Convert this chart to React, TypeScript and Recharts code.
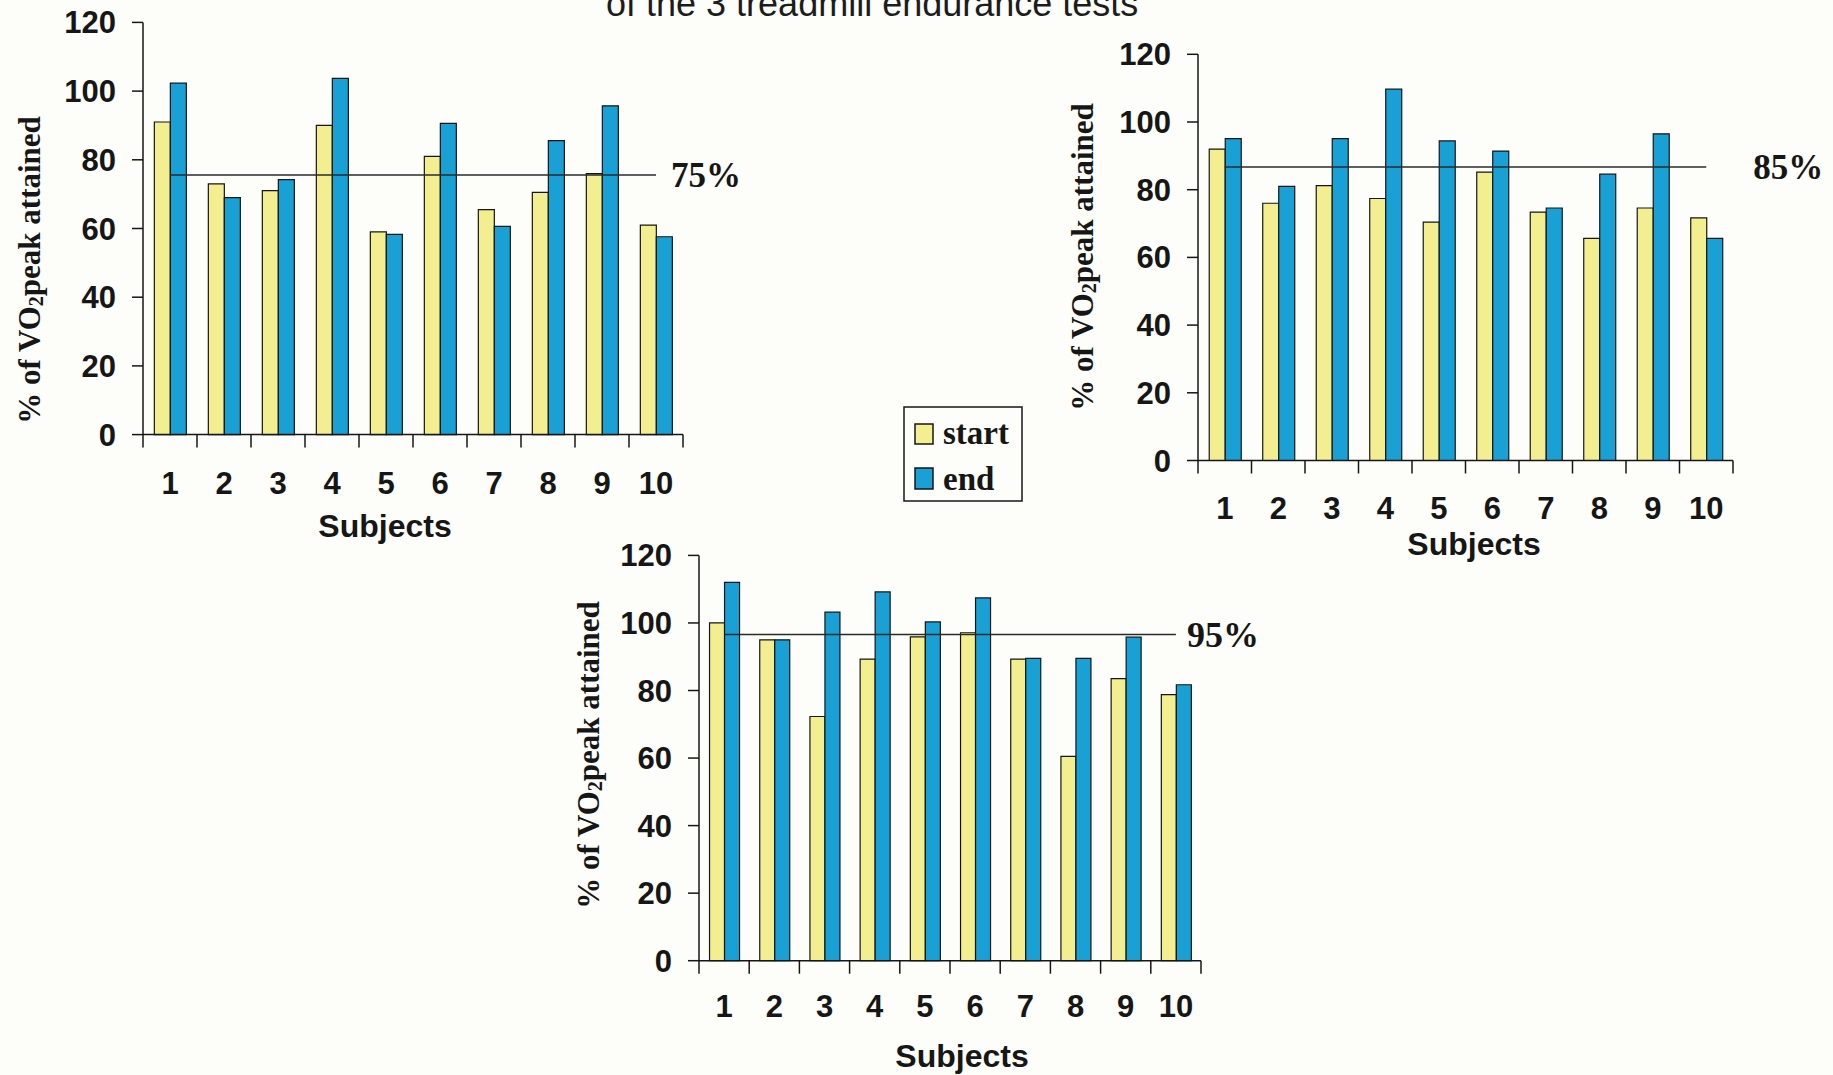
import React from 'react';
import { ComposedChart, Bar, XAxis, YAxis, ReferenceLine } from 'recharts';

// categories and values
const subjects = ['1', '2', '3', '4', '5', '6', '7', '8', '9', '10'];
const yTicks = [0, 20, 40, 60, 80, 100, 120];

const test1Start = [91, 73, 71, 90, 59, 81, 65.5, 70.5, 76, 61];
const test1End = [102.3, 69, 74.2, 103.7, 58.3, 90.6, 60.6, 85.6, 95.7, 57.6];

const test2Start = [92, 76, 81.2, 77.4, 70.4, 85.2, 73.4, 65.6, 74.6, 71.7];
const test2End = [95.1, 81, 95.1, 109.7, 94.4, 91.4, 74.6, 84.6, 96.5, 65.6];

const test3Start = [100, 95, 72.3, 89.3, 95.9, 97.1, 89.3, 60.5, 83.5, 78.8];
const test3End = [112, 95, 103.2, 109.2, 100.3, 107.4, 89.5, 89.5, 95.8, 81.7];

// threshold lines as drawn (slightly above the nominal value in the scan)
const thresholds = [75.6, 86.7, 96.6];
const thresholdLabels = ['75%', '85%', '95%'];

const SANS = "'Liberation Sans', Arial, sans-serif";
const SERIF = "'Liberation Serif', 'Times New Roman', serif";
const YELLOW = '#f3ee90';
const BLUE = '#19a1d5';
const INK = '#161616';
const BG = '#fdfdf9';

interface PanelProps {
  start: number[];
  end: number[];
  threshold: number;
  thresholdLabel: string;
  left: number;
  top: number;
  width: number;
  height: number;
  plot: { left: number; right: number; top: number; bottom: number };
  labelOffset: number;
  labelSize: number;
  tickDy: number;
}

const Panel: React.FC<PanelProps> = ({
  start, end, threshold, thresholdLabel, left, top, width, height, plot, labelOffset, labelSize, tickDy
}) => {
  const data = subjects.map((s, i) => ({ subject: s, start: start[i], end: end[i] }));
  const band = (plot.right - plot.left) / subjects.length;

  // tick marks sit on the category boundaries, labels in the middle
  const renderTick = (props: any) => {
    const { x, y, payload } = props;
    const last = payload.value === subjects[subjects.length - 1];
    return (
      <g>
        <line x1={x - band / 2} y1={y} x2={x - band / 2} y2={y + 13} stroke={INK} strokeWidth={1.5} />
        {last && <line x1={x + band / 2} y1={y} x2={x + band / 2} y2={y + 13} stroke={INK} strokeWidth={1.5} />}
        <text x={x} y={y + tickDy} textAnchor="middle" fontFamily={SANS} fontWeight={700} fontSize={31} fill={INK}>
          {payload.value}
        </text>
      </g>
    );
  };

  return (
    <div style={{ position: 'absolute', left, top }}>
      <ComposedChart
        width={width}
        height={height}
        data={data}
        margin={{ top: plot.top, right: width - plot.right, bottom: 0, left: 0 }}
        barCategoryGap="21%"
        barGap={0}
      >
        <XAxis
          dataKey="subject"
          height={height - plot.bottom}
          interval={0}
          tickLine={false}
          tickSize={0}
          tickMargin={0}
          axisLine={{ stroke: INK, strokeWidth: 1.5 }}
          tick={renderTick}
        />
        <YAxis
          width={plot.left}
          domain={[0, 120]}
          ticks={yTicks}
          interval={0}
          tickSize={11}
          tickMargin={16}
          axisLine={{ stroke: INK, strokeWidth: 1.5 }}
          tickLine={{ stroke: INK, strokeWidth: 1.5 }}
          tick={{ fill: INK, fontSize: 31, fontWeight: 700, fontFamily: SANS }}
        />
        <Bar dataKey="start" fill={YELLOW} stroke={INK} strokeWidth={1.2} isAnimationActive={false} />
        <Bar dataKey="end" fill={BLUE} stroke={INK} strokeWidth={1.2} isAnimationActive={false} />
        <ReferenceLine
          segment={[
            { x: subjects[0], y: threshold },
            { x: subjects[subjects.length - 1], y: threshold }
          ]}
          stroke="#2a2a2a"
          strokeWidth={1.5}
          label={{
            value: thresholdLabel,
            position: 'right',
            offset: labelOffset,
            fill: INK,
            fontSize: labelSize,
            fontWeight: 700,
            fontFamily: SERIF
          }}
        />
      </ComposedChart>
    </div>
  );
};

const YTitle = ({ cx, cy }: { cx: number; cy: number }) => (
  <text
    transform={`rotate(-90 ${cx} ${cy})`}
    x={cx}
    y={cy}
    textAnchor="middle"
    dominantBaseline="central"
    fontFamily={SERIF}
    fontWeight={700}
    fontSize={31}
    fill={INK}
  >
    % of VO<tspan fontSize={20} dy={7}>2</tspan>
    <tspan dy={-7}>peak attained</tspan>
  </text>
);

const Subjects = ({ x, y }: { x: number; y: number }) => (
  <text x={x} y={y} textAnchor="middle" fontFamily={SANS} fontWeight={700} fontSize={32} fill={INK}>
    Subjects
  </text>
);

export default function App() {
  return (
    <div
      style={{
        position: 'absolute',
        left: 0,
        top: 0,
        width: 1833,
        height: 1075,
        background: BG,
        overflow: 'hidden'
      }}
    >
      <Panel
        start={test1Start}
        end={test1End}
        threshold={thresholds[0]}
        thresholdLabel={thresholdLabels[0]}
        left={0}
        top={0}
        width={760}
        height={560}
        plot={{ left: 143, right: 683, top: 22.4, bottom: 434.6 }}
        labelOffset={15}
        labelSize={35}
        tickDy={59}
      />
      <Panel
        start={test2Start}
        end={test2End}
        threshold={thresholds[1]}
        thresholdLabel={thresholdLabels[1]}
        left={1000}
        top={0}
        width={833}
        height={580}
        plot={{ left: 198, right: 733, top: 54.3, bottom: 460.5 }}
        labelOffset={47}
        labelSize={35}
        tickDy={58}
      />
      <Panel
        start={test3Start}
        end={test3End}
        threshold={thresholds[2]}
        thresholdLabel={thresholdLabels[2]}
        left={540}
        top={520}
        width={760}
        height={555}
        plot={{ left: 159, right: 661, top: 35.4, bottom: 440.7 }}
        labelOffset={11}
        labelSize={36}
        tickDy={56}
      />

      <svg width={1833} height={1075} style={{ position: 'absolute', left: 0, top: 0 }}>
        {/* title, cut off by the top edge as in the scan */}
        <text x={606} y={16} fontFamily={SANS} fontSize={36} fill="#1c1c1c">
          of the  3 treadmill endurance tests
        </text>

        <YTitle cx={29} cy={270} />
        <YTitle cx={1082} cy={257} />
        <YTitle cx={588} cy={755} />

        <Subjects x={385} y={537} />
        <Subjects x={1474} y={555} />
        <Subjects x={962} y={1067} />

        {/* legend */}
        <rect x={904} y={407} width={118} height={94} fill="none" stroke={INK} strokeWidth={1.5} />
        <rect x={915} y={424} width={18} height={20} fill={YELLOW} stroke={INK} strokeWidth={1.5} />
        <text x={943} y={444} fontFamily={SERIF} fontWeight={700} fontSize={33} fill={INK}>start</text>
        <rect x={915} y={468} width={18} height={21} fill={BLUE} stroke={INK} strokeWidth={1.5} />
        <text x={943} y={490} fontFamily={SERIF} fontWeight={700} fontSize={33} fill={INK}>end</text>
      </svg>
    </div>
  );
}
